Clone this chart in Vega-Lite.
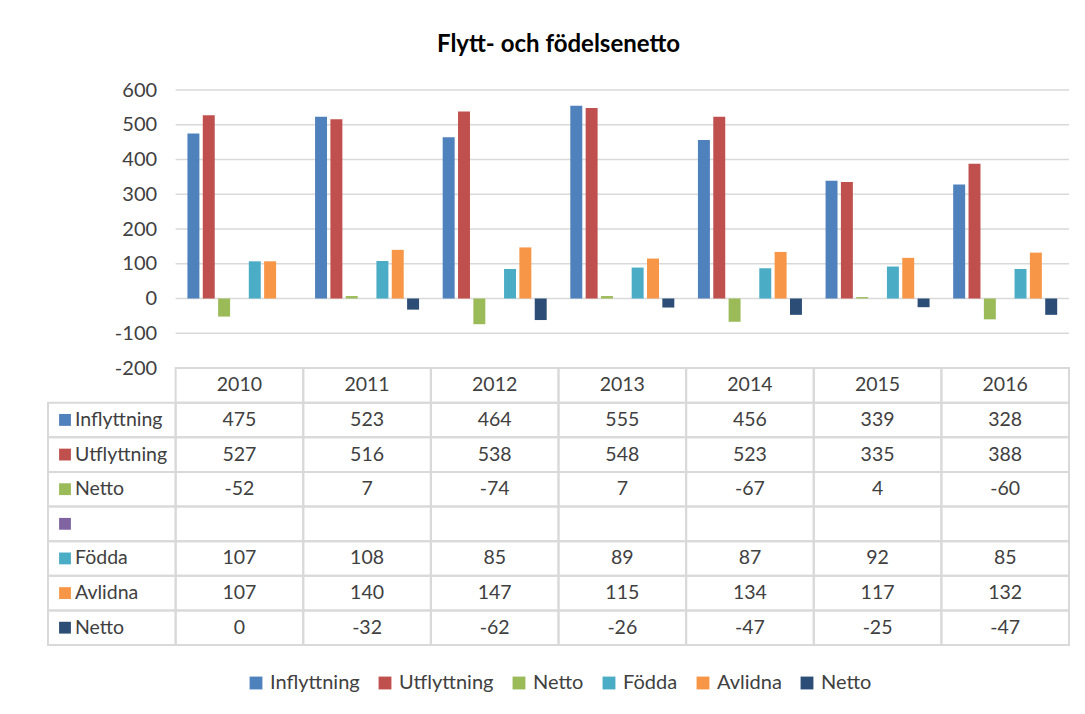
{
  "$schema": "https://vega.github.io/schema/vega-lite/v6.json",
  "padding": {"left": 47, "top": 33, "right": 17, "bottom": 5},
  "background": "white",
  "title": {"text": "Flytt- och födelsenetto", "font": "Lato", "fontSize": 24, "fontWeight": "bold", "color": "#000000", "anchor": "middle", "offset": 23},
  "config": {
    "view": {"stroke": null},
    "font": "Lato",
    "legend": {"layout": {"bottom": {"anchor": "middle"}}},
    "axisY": {"labelOverlap": false, "labelBound": false, "labelFlush": false}
  },
  "spacing": 0,
  "bounds": "flush",
  "resolve": {"scale": {"color": "shared"}, "legend": {"color": "shared"}},
  "datasets": {
    "flows": [
      {"year": "2010", "series": "Inflyttning", "value": 475},
      {"year": "2011", "series": "Inflyttning", "value": 523},
      {"year": "2012", "series": "Inflyttning", "value": 464},
      {"year": "2013", "series": "Inflyttning", "value": 555},
      {"year": "2014", "series": "Inflyttning", "value": 456},
      {"year": "2015", "series": "Inflyttning", "value": 339},
      {"year": "2016", "series": "Inflyttning", "value": 328},
      {"year": "2010", "series": "Utflyttning", "value": 527},
      {"year": "2011", "series": "Utflyttning", "value": 516},
      {"year": "2012", "series": "Utflyttning", "value": 538},
      {"year": "2013", "series": "Utflyttning", "value": 548},
      {"year": "2014", "series": "Utflyttning", "value": 523},
      {"year": "2015", "series": "Utflyttning", "value": 335},
      {"year": "2016", "series": "Utflyttning", "value": 388},
      {"year": "2010", "series": "Netto1", "value": -52},
      {"year": "2011", "series": "Netto1", "value": 7},
      {"year": "2012", "series": "Netto1", "value": -74},
      {"year": "2013", "series": "Netto1", "value": 7},
      {"year": "2014", "series": "Netto1", "value": -67},
      {"year": "2015", "series": "Netto1", "value": 4},
      {"year": "2016", "series": "Netto1", "value": -60},
      {"year": "2010", "series": "Blank", "value": null},
      {"year": "2011", "series": "Blank", "value": null},
      {"year": "2012", "series": "Blank", "value": null},
      {"year": "2013", "series": "Blank", "value": null},
      {"year": "2014", "series": "Blank", "value": null},
      {"year": "2015", "series": "Blank", "value": null},
      {"year": "2016", "series": "Blank", "value": null},
      {"year": "2010", "series": "Födda", "value": 107},
      {"year": "2011", "series": "Födda", "value": 108},
      {"year": "2012", "series": "Födda", "value": 85},
      {"year": "2013", "series": "Födda", "value": 89},
      {"year": "2014", "series": "Födda", "value": 87},
      {"year": "2015", "series": "Födda", "value": 92},
      {"year": "2016", "series": "Födda", "value": 85},
      {"year": "2010", "series": "Avlidna", "value": 107},
      {"year": "2011", "series": "Avlidna", "value": 140},
      {"year": "2012", "series": "Avlidna", "value": 147},
      {"year": "2013", "series": "Avlidna", "value": 115},
      {"year": "2014", "series": "Avlidna", "value": 134},
      {"year": "2015", "series": "Avlidna", "value": 117},
      {"year": "2016", "series": "Avlidna", "value": 132},
      {"year": "2010", "series": "Netto2", "value": 0},
      {"year": "2011", "series": "Netto2", "value": -32},
      {"year": "2012", "series": "Netto2", "value": -62},
      {"year": "2013", "series": "Netto2", "value": -26},
      {"year": "2014", "series": "Netto2", "value": -47},
      {"year": "2015", "series": "Netto2", "value": -25},
      {"year": "2016", "series": "Netto2", "value": -47}
    ],
    "rows": [
      {"series": "Inflyttning", "label": "Inflyttning"},
      {"series": "Utflyttning", "label": "Utflyttning"},
      {"series": "Netto1", "label": "Netto"},
      {"series": "Blank", "label": ""},
      {"series": "Födda", "label": "Födda"},
      {"series": "Avlidna", "label": "Avlidna"},
      {"series": "Netto2", "label": "Netto"}
    ],
    "years": [
      {"year": "2010"}, {"year": "2011"}, {"year": "2012"}, {"year": "2013"},
      {"year": "2014"}, {"year": "2015"}, {"year": "2016"}
    ],
    "grid": [
      {"g": 600}, {"g": 500}, {"g": 400}, {"g": 300}, {"g": 200}, {"g": 100}, {"g": 0}, {"g": -100}
    ]
  },
  "vconcat": [
    {
      "width": 1021,
      "height": 278,
      "layer": [
        {
          "data": {"name": "grid"},
          "mark": {"type": "rule", "color": "#D9D9D9", "strokeWidth": 1.4},
          "encoding": {
            "x": {"datum": "2010", "type": "nominal", "bandPosition": 0,
                  "scale": {"domain": ["Serie", "2010", "2011", "2012", "2013", "2014", "2015", "2016"], "paddingInner": 0, "paddingOuter": 0}, "axis": null},
            "x2": {"value": "width"},
            "y": {"field": "g", "type": "quantitative",
                  "scale": {"domain": [-200, 600], "nice": false, "zero": false},
                  "axis": {"values": [-200, -100, 0, 100, 200, 300, 400, 500, 600], "offset": -127.6, "domain": false, "ticks": false, "grid": false,
                           "labelOverlap": false, "labelBound": false,
                           "labelPadding": 19, "labelFont": "Lato", "labelFontSize": 20, "labelColor": "#404040", "title": null,
                           "labelExpr": "'' + datum.value"}}
          }
        },
        {
          "data": {"name": "flows"},
          "transform": [{"filter": "datum.value != null"}],
          "mark": {"type": "bar"},
          "encoding": {
            "x": {"field": "year", "type": "nominal",
                  "scale": {"domain": ["Serie", "2010", "2011", "2012", "2013", "2014", "2015", "2016"], "paddingInner": 0, "paddingOuter": 0}, "axis": null},
            "xOffset": {"field": "series", "type": "nominal",
                        "scale": {"domain": ["Inflyttning", "Utflyttning", "Netto1", "Blank", "Födda", "Avlidna", "Netto2"], "paddingInner": 0.22, "paddingOuter": 0.77}},
            "y": {"field": "value", "type": "quantitative",
                  "scale": {"domain": [-200, 600], "nice": false, "zero": false},
                  "axis": {"values": [-200, -100, 0, 100, 200, 300, 400, 500, 600], "offset": -127.6, "domain": false, "ticks": false, "grid": false,
                           "labelOverlap": false, "labelBound": false,
                           "labelPadding": 19, "labelFont": "Lato", "labelFontSize": 20, "labelColor": "#404040", "title": null,
                           "labelExpr": "'' + datum.value"}},
            "color": {"field": "series", "type": "nominal",
                      "scale": {"domain": ["Inflyttning", "Utflyttning", "Netto1", "Blank", "Födda", "Avlidna", "Netto2"],
                                "range": ["#4F81BD", "#C0504D", "#9BBB59", "#8064A2", "#4BACC6", "#F79646", "#2C4D75"]},
                      "legend": {"orient": "bottom", "direction": "horizontal", "title": null, "offset": 27,
                                 "values": ["Inflyttning", "Utflyttning", "Netto1", "Födda", "Avlidna", "Netto2"],
                                 "labelExpr": "datum.label == 'Netto1' || datum.label == 'Netto2' ? 'Netto' : datum.label",
                                 "symbolType": "square", "symbolSize": 165, "symbolStrokeWidth": 0,
                                 "labelFont": "Lato", "labelFontSize": 20, "labelColor": "#404040",
                                 "columnPadding": 15, "labelOffset": 4}}
          }
        }
      ]
    },
    {
      "width": 1021,
      "height": 277,
      "layer": [
        {
          "data": {"name": "flows"},
          "mark": {"type": "rect", "fill": "white", "fillOpacity": 0, "stroke": "#D9D9D9", "strokeWidth": 2},
          "encoding": {
            "x": {"field": "year", "type": "nominal",
                  "scale": {"domain": ["Serie", "2010", "2011", "2012", "2013", "2014", "2015", "2016"], "paddingInner": 0, "paddingOuter": 0}, "axis": null},
            "y": {"field": "series", "type": "nominal",
                  "scale": {"domain": ["År", "Inflyttning", "Utflyttning", "Netto1", "Blank", "Födda", "Avlidna", "Netto2"], "paddingInner": 0, "paddingOuter": 0}, "axis": null}
          }
        },
        {
          "data": {"name": "rows"},
          "mark": {"type": "rect", "fill": "white", "fillOpacity": 0, "stroke": "#D9D9D9", "strokeWidth": 2},
          "encoding": {
            "x": {"datum": "Serie", "type": "nominal"},
            "y": {"field": "series", "type": "nominal"}
          }
        },
        {
          "data": {"name": "years"},
          "mark": {"type": "rect", "fill": "white", "fillOpacity": 0, "stroke": "#D9D9D9", "strokeWidth": 2},
          "encoding": {
            "x": {"field": "year", "type": "nominal"},
            "y": {"datum": "År", "type": "nominal"}
          }
        },
        {
          "data": {"name": "years"},
          "mark": {"type": "text", "font": "Lato", "fontSize": 19.5, "color": "#404040"},
          "encoding": {
            "x": {"field": "year", "type": "nominal"},
            "y": {"datum": "År", "type": "nominal"},
            "text": {"field": "year", "type": "nominal"}
          }
        },
        {
          "data": {"name": "flows"},
          "transform": [{"filter": "datum.value != null"}],
          "mark": {"type": "text", "font": "Lato", "fontSize": 19.5, "color": "#404040"},
          "encoding": {
            "x": {"field": "year", "type": "nominal"},
            "y": {"field": "series", "type": "nominal"},
            "text": {"field": "value", "type": "nominal"}
          }
        },
        {
          "data": {"name": "rows"},
          "mark": {"type": "text", "font": "Lato", "fontSize": 19.5, "color": "#404040", "align": "left", "dx": 27},
          "encoding": {
            "x": {"datum": "Serie", "type": "nominal", "bandPosition": 0},
            "y": {"field": "series", "type": "nominal"},
            "text": {"field": "label", "type": "nominal"}
          }
        },
        {
          "data": {"name": "rows"},
          "mark": {"type": "point", "shape": "square", "filled": true, "opacity": 1, "size": 140, "xOffset": 17},
          "encoding": {
            "x": {"datum": "Serie", "type": "nominal", "bandPosition": 0},
            "y": {"field": "series", "type": "nominal"},
            "color": {"field": "series", "type": "nominal"}
          }
        }
      ]
    }
  ]
}
